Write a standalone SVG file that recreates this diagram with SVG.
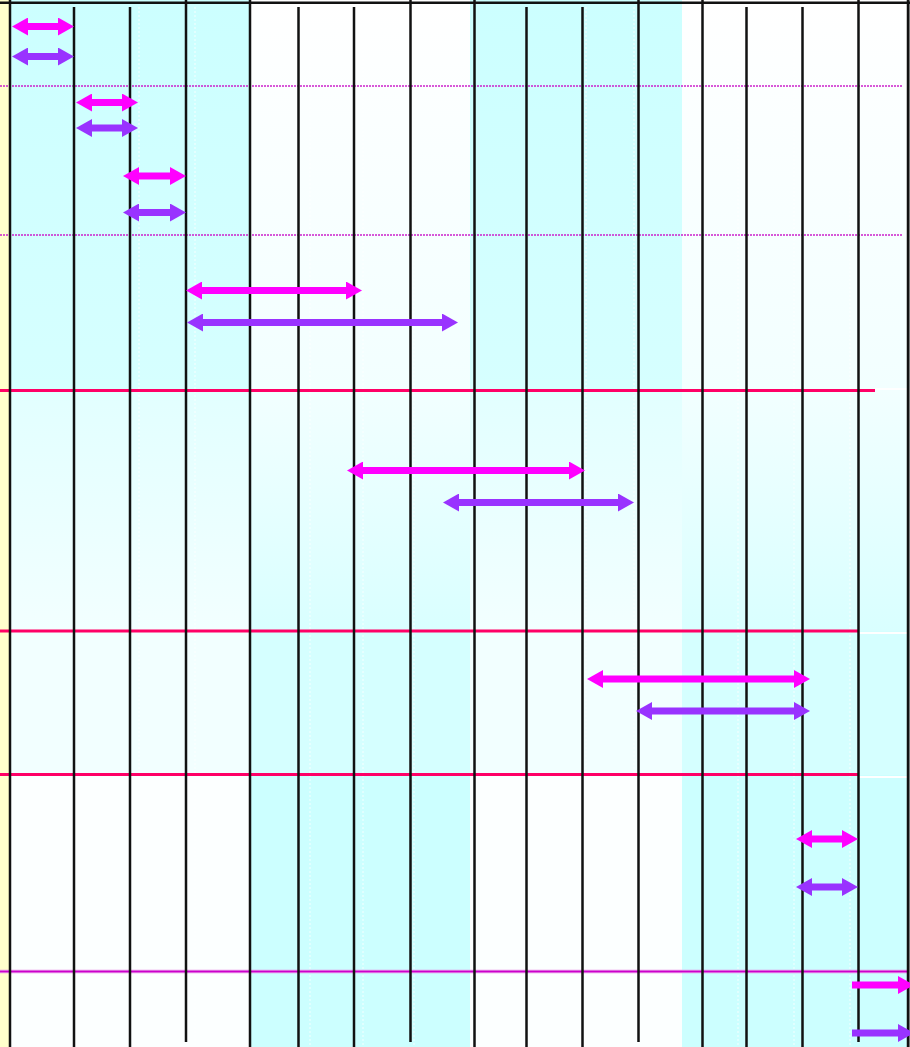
<svg xmlns="http://www.w3.org/2000/svg" width="910" height="1047" viewBox="0 0 910 1047">
<style>
.vl{stroke:#111;stroke-width:2.5;fill:none}
.dotw{stroke:#fff;stroke-width:1;stroke-dasharray:2 2;fill:none;opacity:0.8}
.dotm{stroke:#cc22cc;stroke-width:1.5;stroke-dasharray:2 1;fill:none}
.red{stroke:#ff0066;stroke-width:3;fill:none}
.wht{stroke:#ffffff;stroke-width:2;fill:none}
.mag{stroke:#ff00ff;stroke-width:7;fill:none}
.pur{stroke:#9933ff;stroke-width:7;fill:none}
.magd{stroke:#ff00ff;stroke-width:7;fill:none;marker-start:url(#hm);marker-end:url(#hm)}
.purd{stroke:#9933ff;stroke-width:7;fill:none;marker-start:url(#hp);marker-end:url(#hp)}
</style>
<defs>
<linearGradient id="gA1" x1="0" y1="0" x2="0" y2="1"><stop offset="0" stop-color="#ccffff"/><stop offset="1" stop-color="#d6ffff"/></linearGradient>
<linearGradient id="gB1" x1="0" y1="0" x2="0" y2="1"><stop offset="0" stop-color="#ffffff"/><stop offset="1" stop-color="#f2ffff"/></linearGradient>
<linearGradient id="gA2" x1="0" y1="0" x2="0" y2="1"><stop offset="0" stop-color="#e2ffff"/><stop offset="1" stop-color="#f2ffff"/></linearGradient>
<linearGradient id="gB2" x1="0" y1="0" x2="0" y2="1"><stop offset="0" stop-color="#f2ffff"/><stop offset="1" stop-color="#d9ffff"/></linearGradient>
<marker id="hm" markerUnits="userSpaceOnUse" markerWidth="16" markerHeight="18" refX="8" refY="9" orient="auto-start-reverse" viewBox="0 0 16 18"><path d="M0,0 L16,9 L0,18 z" fill="#ff00ff"/></marker>
<marker id="hp" markerUnits="userSpaceOnUse" markerWidth="16" markerHeight="18" refX="8" refY="9" orient="auto-start-reverse" viewBox="0 0 16 18"><path d="M0,0 L16,9 L0,18 z" fill="#9933ff"/></marker>
</defs>

<g id="background">
<rect x="0" y="0" width="910" height="1047" fill="#ffffff"/>
<rect x="0" y="0" width="10" height="1047" fill="#ffffcc"/>
<!-- row band 1 -->
<rect x="10" y="0" width="240" height="390" fill="url(#gA1)"/>
<rect x="250" y="0" width="220" height="390" fill="url(#gB1)"/>
<rect x="470" y="0" width="212" height="390" fill="url(#gA1)"/>
<rect x="682" y="0" width="226" height="390" fill="url(#gB1)"/>
<!-- row band 2 -->
<rect x="10" y="390" width="240" height="241" fill="url(#gA2)"/>
<rect x="250" y="390" width="220" height="241" fill="url(#gB2)"/>
<rect x="470" y="390" width="212" height="241" fill="url(#gA2)"/>
<rect x="682" y="390" width="226" height="241" fill="url(#gB2)"/>
<!-- row band 3 -->
<rect x="10" y="631" width="240" height="144" fill="#f2ffff"/>
<rect x="250" y="631" width="220" height="144" fill="#d5ffff"/>
<rect x="470" y="631" width="212" height="144" fill="#f2ffff"/>
<rect x="682" y="631" width="226" height="144" fill="#d5ffff"/>
<!-- row band 4 -->
<rect x="10" y="775" width="240" height="272" fill="#fcffff"/>
<rect x="250" y="775" width="220" height="272" fill="#ccffff"/>
<rect x="470" y="775" width="212" height="272" fill="#fcffff"/>
<rect x="682" y="775" width="226" height="272" fill="#ccffff"/>
</g>

<g id="grid">
<g id="subdivisions">
<line class="dotw" x1="139" y1="7" x2="139" y2="1047"/>
<line class="dotw" x1="195" y1="7" x2="195" y2="1047"/>
<line class="dotw" x1="310" y1="7" x2="310" y2="1047"/>
<line class="dotw" x1="363" y1="7" x2="363" y2="1047"/>
<line class="dotw" x1="414" y1="7" x2="414" y2="1047"/>
<line class="dotw" x1="586" y1="7" x2="586" y2="1047"/>
<line class="dotw" x1="634" y1="7" x2="634" y2="1047"/>
<line class="dotw" x1="738" y1="7" x2="738" y2="1047"/>
<line class="dotw" x1="794" y1="7" x2="794" y2="1047"/>
<line class="dotw" x1="850" y1="7" x2="850" y2="1047"/>
</g>
<g id="row-separators">
<line class="dotm" x1="0" y1="86" x2="902" y2="86"/>
<line class="dotm" x1="0" y1="235" x2="902" y2="235"/>
<line class="red" x1="0" y1="390.5" x2="875" y2="390.5"/>
<line class="wht" x1="875" y1="389" x2="908" y2="389"/>
<line class="red" x1="0" y1="631" x2="858" y2="631"/>
<line class="wht" x1="858" y1="633" x2="908" y2="633"/>
<line class="red" x1="0" y1="774.5" x2="858" y2="774.5"/>
<line class="wht" x1="858" y1="777" x2="908" y2="777"/>
<line x1="0" y1="971.5" x2="908" y2="971.5" stroke="#e58ae5" stroke-width="3.5"/>
<line x1="0" y1="971.5" x2="908" y2="971.5" stroke="#cc00cc" stroke-width="1.6"/>
</g>
<g id="columns">
<line class="vl" x1="10" y1="0" x2="10" y2="1047"/>
<line class="vl" x1="74" y1="7" x2="74" y2="1047"/>
<line class="vl" x1="130" y1="7" x2="130" y2="1047"/>
<line class="vl" x1="186" y1="0" x2="186" y2="1042"/>
<line class="vl" x1="250" y1="0" x2="250" y2="1047"/>
<line class="vl" x1="298.5" y1="7" x2="298.5" y2="1047"/>
<line class="vl" x1="354" y1="7" x2="354" y2="1047"/>
<line class="vl" x1="410.5" y1="0" x2="410.5" y2="1042"/>
<line class="vl" x1="474.5" y1="0" x2="474.5" y2="1047"/>
<line class="vl" x1="526.5" y1="7" x2="526.5" y2="1047"/>
<line class="vl" x1="582.5" y1="7" x2="582.5" y2="1047"/>
<line class="vl" x1="638.5" y1="0" x2="638.5" y2="1042"/>
<line class="vl" x1="702.5" y1="0" x2="702.5" y2="1047"/>
<line class="vl" x1="746.5" y1="7" x2="746.5" y2="1047"/>
<line class="vl" x1="802.5" y1="7" x2="802.5" y2="1047"/>
<line class="vl" x1="858.5" y1="0" x2="858.5" y2="1042"/>
<line class="vl" x1="908" y1="0" x2="908" y2="1047"/>
<line x1="909.5" y1="0" x2="909.5" y2="1047" stroke="#777" stroke-width="1"/>
</g>
<line id="top-border" x1="0" y1="2.8" x2="910" y2="2.8" stroke="#111" stroke-width="2.5"/>
</g>

<g id="connectors">
<line class="magd" x1="20" y1="26.5" x2="66" y2="26.5"/>
<line class="purd" x1="20" y1="56.5" x2="66" y2="56.5"/>
<line class="magd" x1="84" y1="102.5" x2="130" y2="102.5"/>
<line class="purd" x1="84" y1="128" x2="130" y2="128"/>
<line class="magd" x1="131" y1="176" x2="178" y2="176"/>
<line class="purd" x1="131" y1="212.5" x2="178" y2="212.5"/>
<line class="magd" x1="194" y1="290.5" x2="354" y2="290.5"/>
<line class="purd" x1="195" y1="322.5" x2="450" y2="322.5"/>
<line class="magd" x1="355" y1="470.5" x2="577" y2="470.5"/>
<line class="purd" x1="451" y1="502.5" x2="626" y2="502.5"/>
<line class="magd" x1="595" y1="679" x2="802" y2="679"/>
<line class="purd" x1="644" y1="711" x2="802" y2="711"/>
<line class="magd" x1="804" y1="839" x2="850" y2="839"/>
<line class="purd" x1="804" y1="887" x2="850" y2="887"/>
<line class="mag" x1="852" y1="985" x2="906" y2="985" style="marker-end:url(#hm)"/>
<line class="pur" x1="852" y1="1033" x2="906" y2="1033" style="marker-end:url(#hp)"/>
</g>
</svg>
